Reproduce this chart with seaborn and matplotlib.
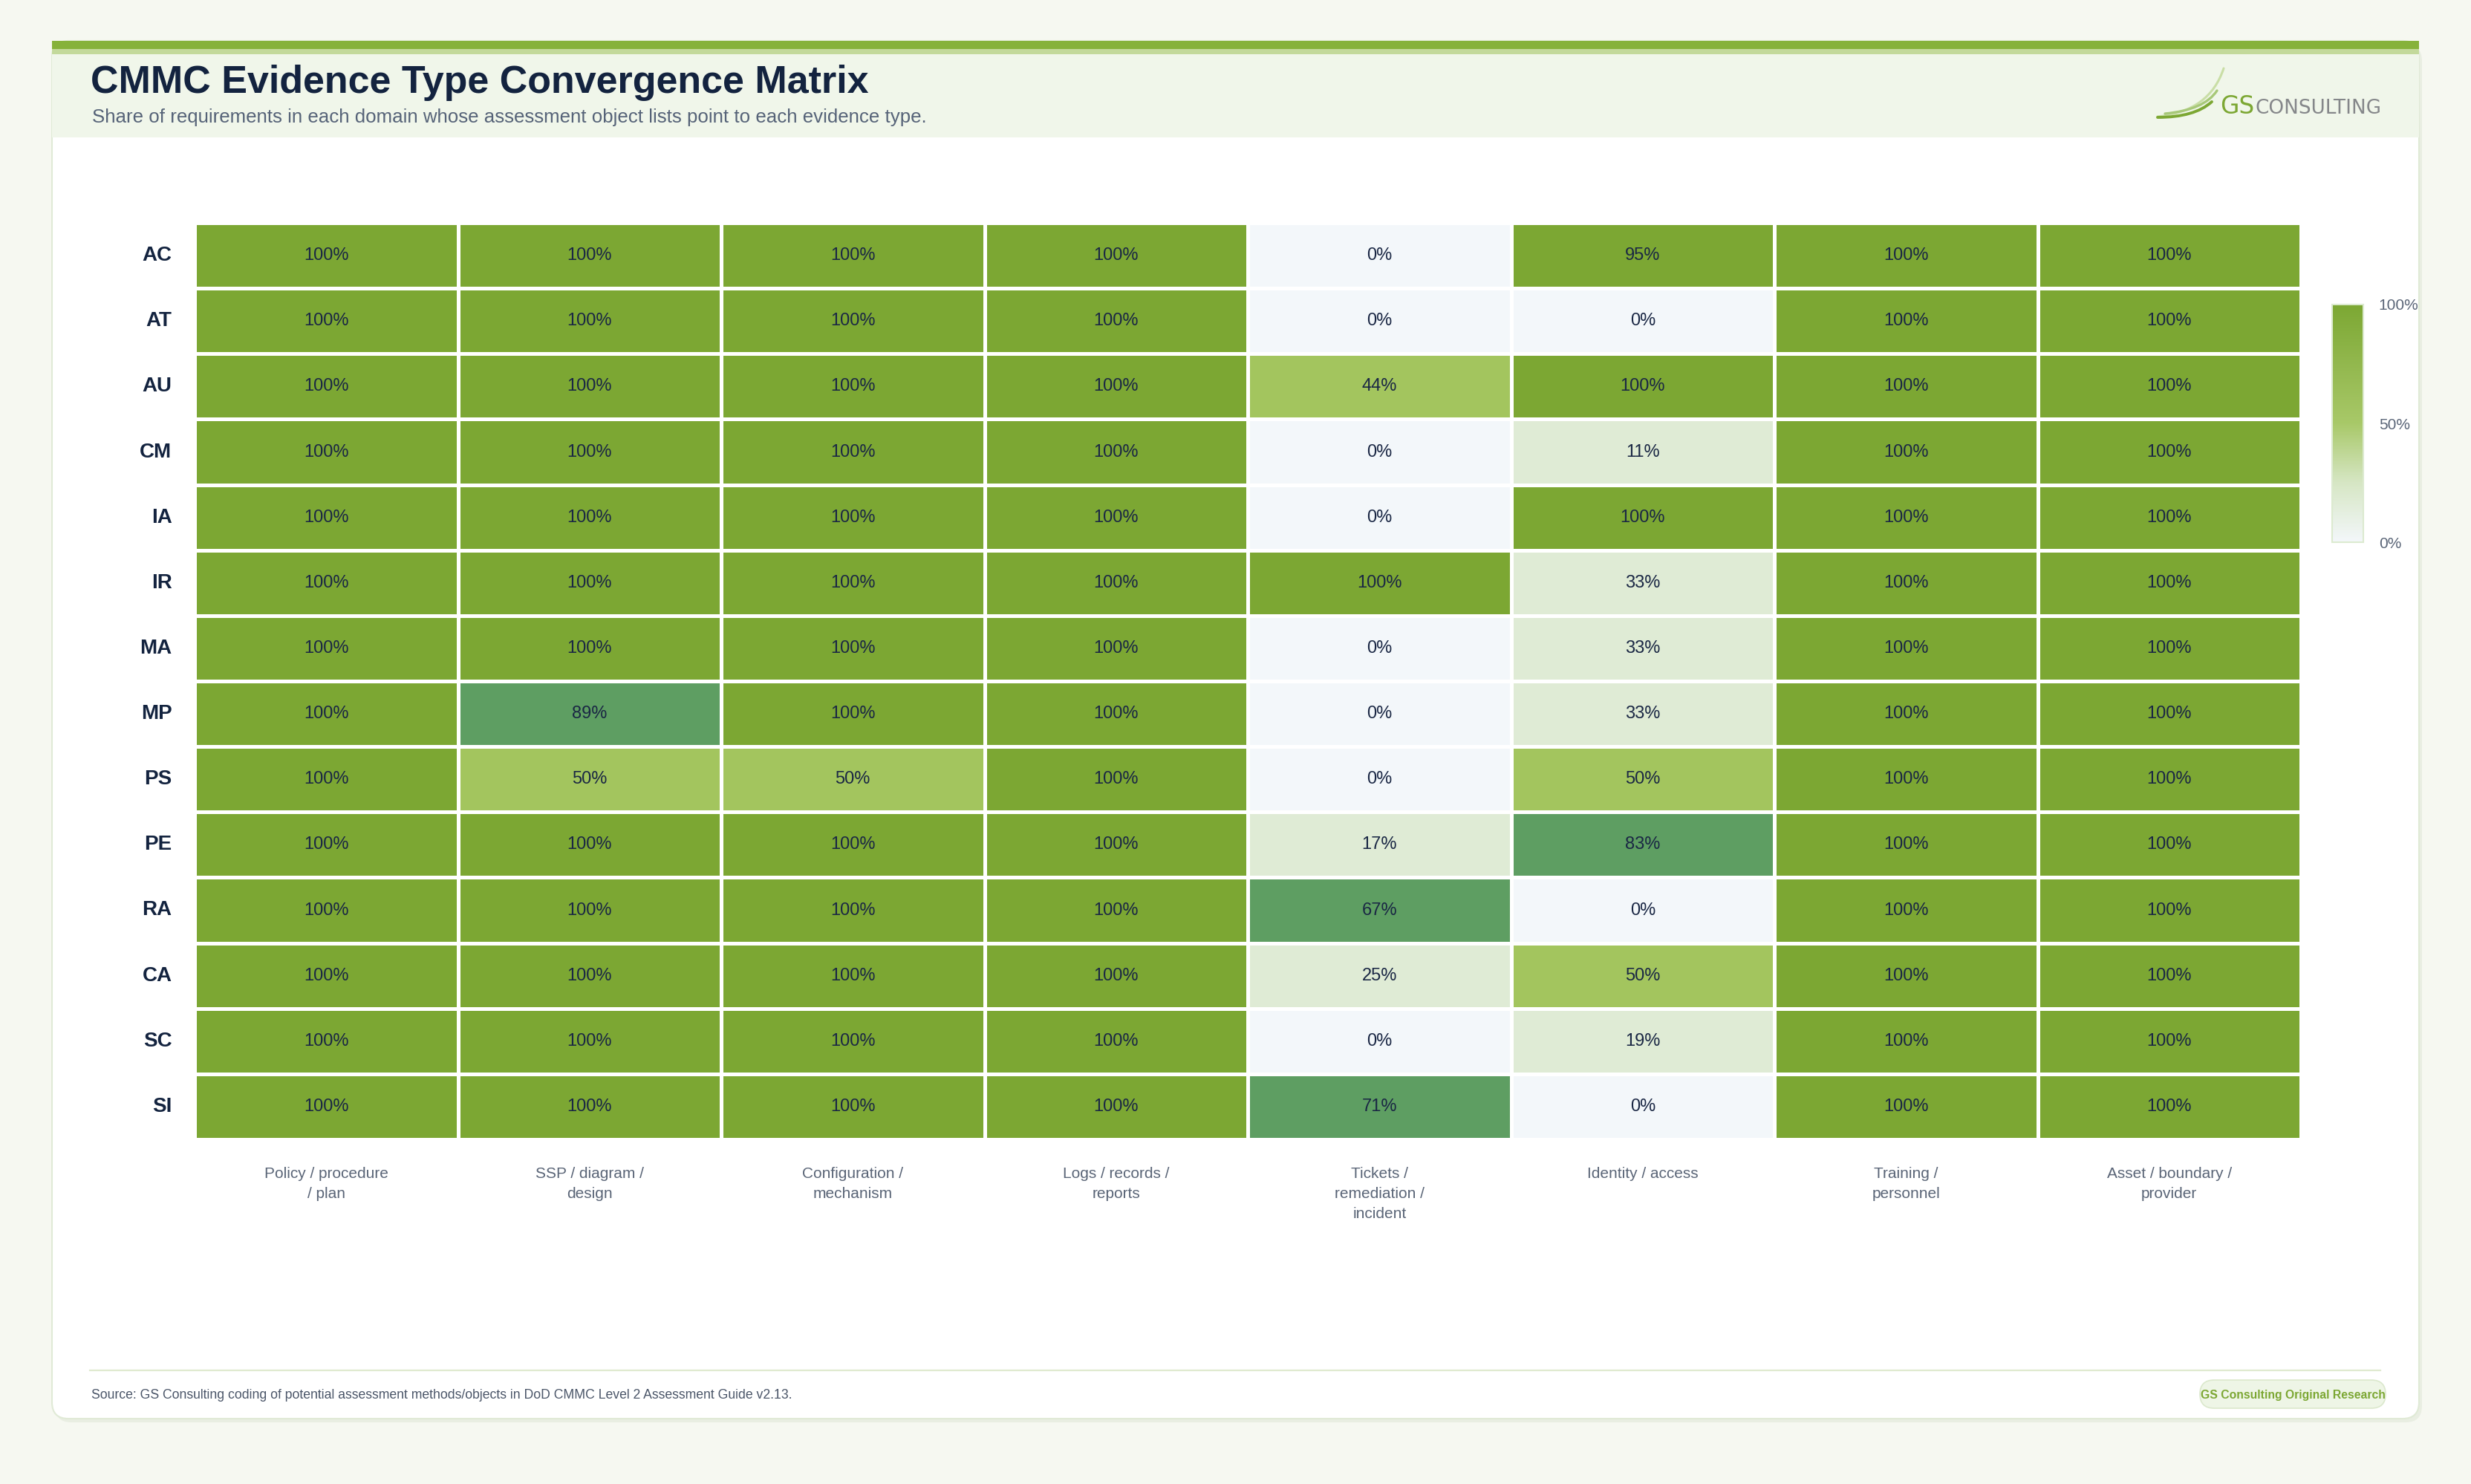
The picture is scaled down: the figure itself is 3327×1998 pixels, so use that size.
import numpy as np
import pandas as pd
import matplotlib
matplotlib.use("Agg")
import matplotlib.pyplot as plt
import seaborn as sns
from matplotlib.colors import ListedColormap, BoundaryNorm, LinearSegmentedColormap, Normalize
from matplotlib.patches import FancyBboxPatch, Rectangle, PathPatch
from matplotlib.path import Path
import matplotlib.cm as cm

# ---------------- data ----------------
domains = ["AC", "AT", "AU", "CM", "IA", "IR", "MA", "MP", "PS", "PE", "RA", "CA", "SC", "SI"]
evidence_types = [
    "Policy / procedure\n/ plan",
    "SSP / diagram /\ndesign",
    "Configuration /\nmechanism",
    "Logs / records /\nreports",
    "Tickets /\nremediation /\nincident",
    "Identity / access",
    "Training /\npersonnel",
    "Asset / boundary /\nprovider",
]
policy_procedure_plan = [100, 100, 100, 100, 100, 100, 100, 100, 100, 100, 100, 100, 100, 100]
ssp_diagram_design    = [100, 100, 100, 100, 100, 100, 100, 89, 50, 100, 100, 100, 100, 100]
configuration_mech    = [100, 100, 100, 100, 100, 100, 100, 100, 50, 100, 100, 100, 100, 100]
logs_records_reports  = [100, 100, 100, 100, 100, 100, 100, 100, 100, 100, 100, 100, 100, 100]
tickets_remediation   = [0, 0, 44, 0, 0, 100, 0, 0, 0, 17, 67, 25, 0, 71]
identity_access       = [95, 0, 100, 11, 100, 33, 33, 33, 50, 83, 0, 50, 19, 0]
training_personnel    = [100, 100, 100, 100, 100, 100, 100, 100, 100, 100, 100, 100, 100, 100]
asset_boundary        = [100, 100, 100, 100, 100, 100, 100, 100, 100, 100, 100, 100, 100, 100]
colorbar_ticks = [0, 50, 100]

columns = [policy_procedure_plan, ssp_diagram_design, configuration_mech, logs_records_reports,
           tickets_remediation, identity_access, training_personnel, asset_boundary]
df = pd.DataFrame({lbl: col for lbl, col in zip(evidence_types, columns)}, index=domains)
annot = df.apply(lambda s: s.map(lambda v: f"{v:.0f}%"))

# ---------------- style ----------------
W, H = 3327, 1998
NAVY = "#13233f"
GRAY = "#5a6577"
GREEN = "#7ca733"
plt.rcParams["font.family"] = ["Liberation Sans", "DejaVu Sans"]

fig = plt.figure(figsize=(W / 100, H / 100), dpi=100, facecolor="#f6f8f1")
renderer = fig.canvas.get_renderer()

bg = fig.add_axes([0, 0, 1, 1])
bg.set_xlim(0, W)
bg.set_ylim(H, 0)
bg.axis("off")
bg.set_zorder(-1)

# card + shadow
bg.add_patch(FancyBboxPatch((74, 60), 3187, 1855, boxstyle="round,pad=0,rounding_size=22",
                            fc="#e6ecdf", ec="none", alpha=0.8))
bg.add_patch(FancyBboxPatch((70, 55), 3187, 1855, boxstyle="round,pad=0,rounding_size=22",
                            fc="white", ec="#e0ead6", lw=1.5))
bg.add_patch(Rectangle((70, 73), 3187, 112, fc="#f0f6ea", ec="none"))
bg.add_patch(Rectangle((70, 55), 3187, 11, fc="#86b23a", ec="none"))
bg.add_patch(Rectangle((70, 66), 3187, 7, fc="#c3d99b", ec="none"))


def fit(t, target):
    w = t.get_window_extent(renderer).width
    t.set_fontsize(t.get_fontsize() * target / w)


t = bg.text(122, 125, "CMMC Evidence Type Convergence Matrix", fontsize=37, fontweight="bold",
            color=NAVY, va="baseline", ha="left")
fit(t, 1047)
t = bg.text(124, 165, "Share of requirements in each domain whose assessment object lists point to each evidence type.",
            fontsize=17, color="#566378", va="baseline", ha="left")
fit(t, 1128)

# logo swooshes
def swoosh(p0, c, p1, color, lw):
    path = Path([p0, c, p1], [Path.MOVETO, Path.CURVE3, Path.CURVE3])
    bg.add_patch(PathPatch(path, fc="none", ec=color, lw=lw, capstyle="round"))

swoosh((2905, 157), (2975, 150), (2994, 92), "#c9dea6", 2.2)
swoosh((2915, 153), (2968, 148), (2985, 122), "#a7c878", 2.4)
swoosh((2905, 158), (2955, 158), (2978, 137), "#7ca733", 2.8)
tg = bg.text(2989, 153, "GS", fontsize=21, color=GREEN, family=["DejaVu Sans"],
             va="baseline", ha="left")
fit(tg, 46)
gs_right = tg.get_window_extent(renderer).x1
tc = bg.text(gs_right + 1, 153, "CONSULTING", fontsize=21, color="#85878a", family=["DejaVu Sans"],
             va="baseline", ha="left")
fit(tc, 3205 - gs_right - 1)

# footer
bg.plot([121, 3205], [1845, 1845], color="#dfeacf", lw=1.6)
t = bg.text(123, 1883, "Source: GS Consulting coding of potential assessment methods/objects in DoD CMMC Level 2 Assessment Guide v2.13.",
            fontsize=12, color="#4a5568", va="baseline", ha="left")
fit(t, 943)
bg.add_patch(FancyBboxPatch((2962, 1858), 250, 38, boxstyle="round,pad=0,rounding_size=19",
                            fc="#eef5e6", ec="#dbe8cc", lw=1.2))
t = bg.text(3087, 1883, "GS Consulting Original Research", fontsize=11, fontweight="bold",
            color=GREEN, va="baseline", ha="center")
fit(t, 250)

# ---------------- heatmap ----------------
bin_colors = ["#f3f7fa", "#dfebd5", "#a3c55e", "#5e9e62", GREEN]
bin_cmap = ListedColormap(bin_colors)
bin_norm = BoundaryNorm([-0.5, 0.5, 39.5, 60.5, 89.5, 100.5], bin_cmap.N)

ax = fig.add_axes([262 / W, 1 - 1534 / H, (3098 - 262) / W, (1534 - 300) / H])
sns.heatmap(df, ax=ax, cmap=bin_cmap, norm=bin_norm, annot=annot, fmt="",
            annot_kws=dict(fontsize=17, color="#1a2744"),
            linewidths=2.2, linecolor="white", cbar=False)
ax.set_xlabel("")
ax.set_ylabel("")
ax.tick_params(axis="y", length=0, pad=22)
ax.tick_params(axis="x", length=0, pad=27)
ax.set_yticklabels(domains, rotation=0, fontsize=20, fontweight="bold", color=NAVY)
ax.set_xticklabels(evidence_types, rotation=0, fontsize=15, color=GRAY, linespacing=1.5)

# ---------------- colorbar ----------------
grad = LinearSegmentedColormap.from_list(
    "grad", [(0, "#f3f7fa"), (0.25, "#d6e6c4"), (0.5, "#a8c868"), (1, GREEN)])
cax = fig.add_axes([3140 / W, 1 - 730 / H, 42 / W, 320 / H])
cb = fig.colorbar(cm.ScalarMappable(norm=Normalize(0, 100), cmap=grad), cax=cax, ticks=colorbar_ticks)
cb.ax.set_yticklabels([f"{v}%" for v in colorbar_ticks])
cax.tick_params(length=0, pad=15, labelsize=15, labelcolor=GRAY)
cb.outline.set_edgecolor("#dcead0")
cb.outline.set_linewidth(1.5)

fig.savefig("out.png", dpi=100, facecolor=fig.get_facecolor())
